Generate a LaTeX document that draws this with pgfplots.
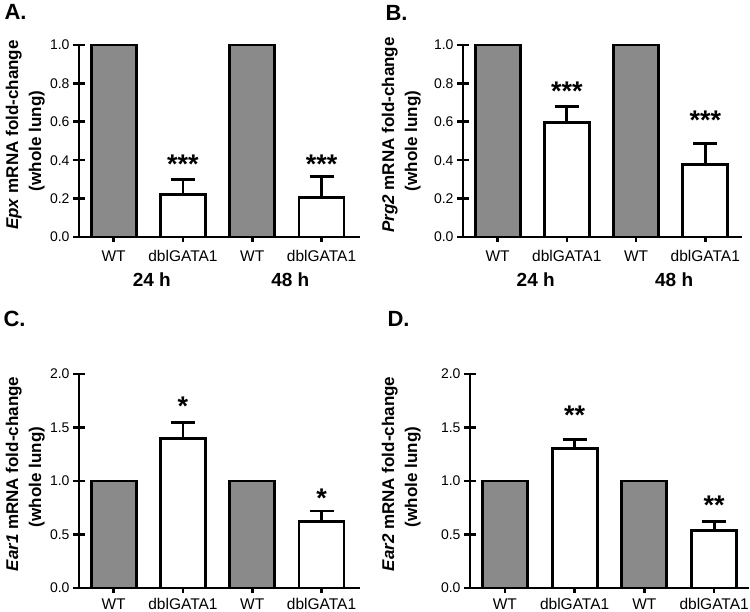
\documentclass[border=0pt]{standalone}
\usepackage{pgfplots}
\pgfplotsset{compat=1.18}
\usepackage{fontspec}
\setmainfont{Liberation Sans}
\definecolor{bargray}{RGB}{138,138,138}

\pgfplotsset{
  panel/.style={
    scale only axis,
    anchor=south west,
    axis x line=bottom, axis y line=left,
    axis line style={-, line width=2.8pt, black},
    xmin=-0.5, ymin=0,
    xtick={0,1,2,3}, xticklabels={WT,dblGATA1,WT,dblGATA1},
    xtick style={draw=none},
    tick align=center, major tick length=12pt,
    ytick style={line width=2.6pt, black},
    yticklabel style={font=\fontsize{14}{15}\selectfont},
    xticklabel style={font=\fontsize{15.5}{17}\selectfont, anchor=base, yshift=-19pt},
    /pgf/number format/.cd, fixed, fixed zerofill, precision=1, assume math mode=true,
    /pgfplots/.cd,
    clip=false,
  },
  wtbar/.style={ybar, bar width=45pt, bar shift=0pt, fill=bargray, draw=black, line width=2.8pt},
  kobar/.style={ybar, bar width=45pt, bar shift=0pt, fill=white, draw=black, line width=2.8pt,
    error bars/.cd, y dir=plus, y explicit,
    error bar style={line width=2.8pt, black},
    error mark options={rotate=90, line width=2.8pt, mark size=12pt, black}},
  xtk/.style={black, line width=2.8pt, mark=none, forget plot,
    error bars/.cd, y dir=minus, y fixed=#1, error mark=none,
    error bar style={line width=2.6pt, black}},
}
\tikzset{
  stars/.style={anchor=base, yshift=-13pt, font=\bfseries\fontsize{27}{29}\selectfont},
  hlab/.style={anchor=base, yshift=-50pt, font=\bfseries\fontsize{19}{21}\selectfont},
  ylab/.style={rotate=90, anchor=base, font=\bfseries\fontsize{17}{19}\selectfont},
  plab/.style={anchor=base west, font=\bfseries\fontsize{22}{24}\selectfont},
}

\begin{document}
\begin{tikzpicture}
\path[use as bounding box] (0pt,0pt) rectangle (750pt,612pt);

% ---------- Panel A ----------
\begin{axis}[panel, at={(79pt,375pt)}, width=281pt, height=192pt,
  xmax=3.555, ymax=1.0, ytick={0,0.2,0.4,0.6,0.8,1.0}]
  \addplot[wtbar] coordinates {(0,1.0) (2,1.0)};
  \addplot[kobar] coordinates {(1,0.22) +- (0,0.08) (3,0.205) +- (0,0.11)};
  \addplot[xtk=0.026] coordinates {(0,0) (1,0) (2,0) (3,0)};
  \node[stars] at (axis cs:1,0.40) {***};
  \node[stars] at (axis cs:3,0.40) {***};
  \node[hlab] at (axis cs:0.55,0) {24 h};
  \node[hlab] at (axis cs:2.55,0) {48 h};
\end{axis}
\node[ylab] at (18pt,477pt) {\textit{Epx} mRNA fold-change};
\node[ylab] at (41pt,471pt) {(whole lung)};
\node[plab] at (1pt,592pt) {A.};

% ---------- Panel B ----------
\begin{axis}[panel, at={(463pt,375pt)}, width=279pt, height=192pt,
  xmax=3.53, ymax=1.0, ytick={0,0.2,0.4,0.6,0.8,1.0}]
  \addplot[wtbar] coordinates {(0,1.0) (2,1.0)};
  \addplot[kobar] coordinates {(1,0.595) +- (0,0.085) (3,0.378) +- (0,0.11)};
  \addplot[xtk=0.026] coordinates {(0,0) (1,0) (2,0) (3,0)};
  \node[stars] at (axis cs:1,0.777) {***};
  \node[stars] at (axis cs:3,0.626) {***};
  \node[hlab] at (axis cs:0.55,0) {24 h};
  \node[hlab] at (axis cs:2.55,0) {48 h};
\end{axis}
\node[ylab] at (394pt,477pt) {\textit{Prg2} mRNA fold-change};
\node[ylab] at (417pt,471pt) {(whole lung)};
\node[plab] at (382pt,591pt) {B.};

% ---------- Panel C ----------
\begin{axis}[panel, at={(79pt,24pt)}, width=281pt, height=214pt,
  xmax=3.555, ymax=2.0, ytick={0,0.5,1.0,1.5,2.0},
  xticklabel style={yshift=3pt}]
  \addplot[wtbar] coordinates {(0,1.0) (2,1.0)};
  \addplot[kobar] coordinates {(1,1.40) +- (0,0.15) (3,0.62) +- (0,0.10)};
  \addplot[xtk=0.047] coordinates {(0,0) (1,0) (2,0) (3,0)};
  \node[stars] at (axis cs:1,1.73) {*};
  \node[stars] at (axis cs:3,0.87) {*};
\end{axis}
\node[ylab] at (18pt,138pt) {\textit{Ear1} mRNA fold-change};
\node[ylab] at (41pt,135pt) {(whole lung)};
\node[plab] at (0pt,285pt) {C.};

% ---------- Panel D ----------
\begin{axis}[panel, at={(470pt,24pt)}, width=279pt, height=214pt,
  xmax=3.5, ymax=2.0, ytick={0,0.5,1.0,1.5,2.0},
  xticklabel style={yshift=3pt}]
  \addplot[wtbar] coordinates {(0,1.0) (2,1.0)};
  \addplot[kobar] coordinates {(1,1.30) +- (0,0.09) (3,0.535) +- (0,0.085)};
  \addplot[xtk=0.047] coordinates {(0,0) (1,0) (2,0) (3,0)};
  \node[stars] at (axis cs:1,1.645) {**};
  \node[stars] at (axis cs:3,0.805) {**};
\end{axis}
\node[ylab] at (394pt,138pt) {\textit{Ear2} mRNA fold-change};
\node[ylab] at (417pt,135pt) {(whole lung)};
\node[plab] at (384pt,285pt) {D.};
\end{tikzpicture}
\end{document}
